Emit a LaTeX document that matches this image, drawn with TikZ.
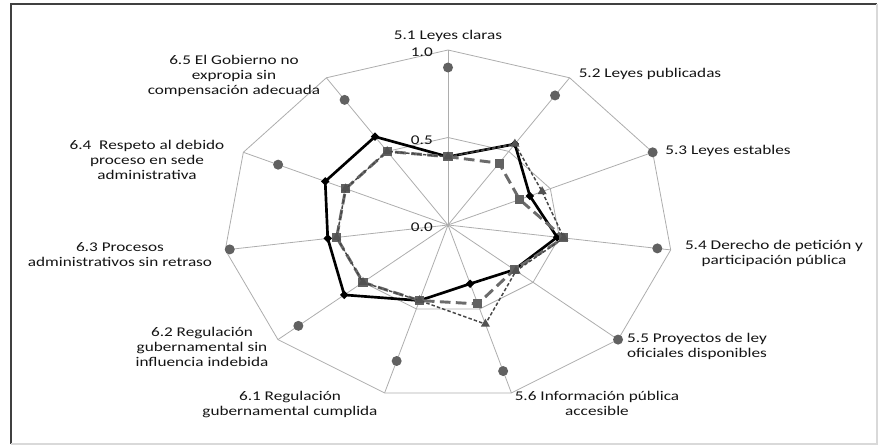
\documentclass[tikz,border=0pt]{standalone}
\usepackage{fontspec}
\setmainfont{Carlito}[FakeStretch=1.29]
\usetikzlibrary{shapes.geometric}

\tikzset{
  radargrid/.style={draw=black!32, line width=0.6pt},
  axlbl/.style={font=\fontsize{10pt}{11.25pt}\selectfont, text=black!92, align=center, inner sep=0pt},
  ticklbl/.style={axlbl, anchor=east},
  serA/.style={draw=black, line width=2pt, line join=round},
  serB/.style={draw=black!58, line width=2.2pt, dash pattern=on 8pt off 4pt},
  serC/.style={draw=black!72, line width=1.1pt, dash pattern=on 2.6pt off 1.6pt},
  mkA/.style={diamond, fill=black, minimum width=6.5pt, minimum height=6.5pt, inner sep=0pt},
  mkB/.style={rectangle, fill=black!62, minimum size=6.8pt, inner sep=0pt},
  mkC/.style={regular polygon, regular polygon sides=3, fill=black!68, minimum size=8pt, inner sep=0pt},
  mkD/.style={circle, fill=black!62, minimum size=7.5pt, inner sep=0pt},
}

\begin{document}
\begin{tikzpicture}[x=0.75pt, y=-0.75pt]
\useasboundingbox (0,0) rectangle (878,446);
% frame
\draw[black!75, line width=0.9pt] (11,444) -- (11,4) -- (877,4);
\draw[black!15, line width=0.9pt] (877,4) -- (877,444) -- (11,444);

% radar
\begin{scope}[shift={(448,225)}, x=168.75pt, y=131.25pt]
\foreach \k in {0,...,10}
  \draw[radargrid] (0,0) -- ({90-\k*360/11}:1);
\foreach \r in {0.5,1}
  \draw[radargrid] (90:\r) \foreach \k in {1,...,10} {-- ({90-\k*360/11}:\r)} -- cycle;

% data
\foreach \v [count=\i from 0] in {0.39,0.55,0.40,0.49,0.39,0.35,0.45,0.61,0.54,0.60,0.60}
  \coordinate (a\i) at ({90-\i*360/11}:\v);
\foreach \v [count=\i from 0] in {0.39,0.42,0.35,0.52,0.39,0.47,0.45,0.50,0.50,0.50,0.50}
  \coordinate (b\i) at ({90-\i*360/11}:\v);
\foreach \v [count=\i from 0] in {0.39,0.55,0.46,0.52,0.40,0.59,0.45,0.50,0.50,0.50,0.50}
  \coordinate (c\i) at ({90-\i*360/11}:\v);
\foreach \v [count=\i from 0] in {0.90,0.88,1.00,0.94,1.00,0.87,0.81,0.88,0.98,0.83,0.85}
  \coordinate (d\i) at ({90-\i*360/11}:\v);

\draw[serA] (a0) \foreach \i in {1,...,10} {-- (a\i)} -- cycle;
\foreach \i in {0,...,10}
  \node[mkA] (ma\i) at (a\i) {};
\draw[serB] (b0) \foreach \i in {1,...,10} {-- (b\i)} -- cycle;
\foreach \i in {0,...,10}
  \node[mkB] (mb\i) at (b\i) {};
\draw[serC] (c0) \foreach \i in {1,...,10} {-- (c\i)} -- cycle;
\foreach \i in {0,...,10}
  \node[mkC] (mc\i) at (c\i) {};
\foreach \i in {0,...,10}
  \node[mkD] (md\i) at (d\i) {};
\end{scope}

% scale
\node[ticklbl] (t10) at (433,52) {1.0};
\node[ticklbl] (t05) at (433,140) {0.5};
\node[ticklbl] (t00) at (433,227) {0.0};

% axis labels
\node[axlbl] (L51) at (448,36) {5.1 Leyes claras};
\node[axlbl] (L52) at (650,74) {5.2 Leyes publicadas};
\node[axlbl] (L53) at (728,151) {5.3 Leyes estables};
\node[axlbl] (L54) at (774,253) {5.4 Derecho de petición y\\participación pública};
\node[axlbl] (L55) at (697,346) {5.5 Proyectos de ley\\oficiales disponibles};
\node[axlbl] (L56) at (597,403) {5.6 Información pública\\accesible};
\node[axlbl] (L61) at (290,405) {6.1 Regulación\\gubernamental cumplida};
\node[axlbl] (L62) at (202,347) {6.2 Regulación\\gubernamental sin\\influencia indebida};
\node[axlbl] (L63) at (120,255) {6.3 Procesos\\administrativos sin retraso};
\node[axlbl] (L64) at (147,160) {6.4~ Respeto al debido\\proceso en sede\\administrativa};
\node[axlbl] (L65) at (234,76) {6.5 El Gobierno no\\expropia sin\\compensación adecuada};
\end{tikzpicture}
\end{document}
